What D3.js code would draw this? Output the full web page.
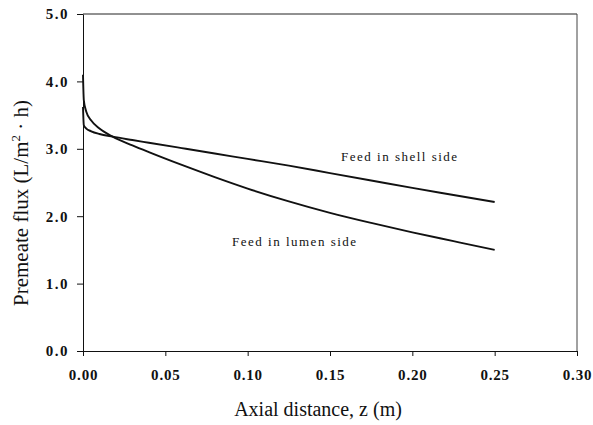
<!DOCTYPE html>
<html>
<head>
<meta charset="utf-8">
<script src="https://cdn.jsdelivr.net/npm/d3@7/dist/d3.min.js"></script>
<style>
  html, body { margin: 0; padding: 0; background: #fff; }
  svg { display: block; }
  .tick text { font-family: "Liberation Serif", "Times New Roman", serif; font-weight: bold; font-size: 15px; fill: #111; }
  .y-axis .tick text { letter-spacing: 1.5px; }
  .x-axis .tick text { letter-spacing: 0.8px; }
  .tick line, .domain { stroke: #111; }
</style>
</head>
<body>
<svg id="chart" width="593" height="425"></svg>
<script>
// Axial position along the module (m)
const axialZ = [0, 0.0005, 0.002, 0.005, 0.01, 0.018, 0.03, 0.04, 0.06, 0.08, 0.10, 0.125, 0.15, 0.175, 0.20, 0.225, 0.25];
// Permeate flux, L/(m²·h)
const fluxLumen = [4.10, 3.72, 3.55, 3.42, 3.30, 3.18, 3.05, 2.95, 2.76, 2.58, 2.41, 2.22, 2.05, 1.90, 1.76, 1.63, 1.50];
const fluxShell = [3.62, 3.35, 3.30, 3.26, 3.22, 3.18, 3.13, 3.09, 3.01, 2.93, 2.85, 2.75, 2.64, 2.53, 2.42, 2.315, 2.21];
const xTicks = [0, 0.05, 0.10, 0.15, 0.20, 0.25, 0.30];
const yTicks = [0, 1, 2, 3, 4, 5];
const seriesNames = ["Feed in shell side", "Feed in lumen side"];

const svg = d3.select("#chart");
const plotLeft = 83, plotRight = 577, plotTop = 14, plotBottom = 351;

const x = d3.scaleLinear().domain([0, 0.30]).range([plotLeft, plotRight]);
const y = d3.scaleLinear().domain([0, 5]).range([plotBottom, plotTop]);

// frame: top and right edges
svg.append("line").attr("x1", plotLeft).attr("x2", plotRight).attr("y1", plotTop).attr("y2", plotTop)
  .attr("stroke", "#222").attr("stroke-width", 1);
svg.append("line").attr("x1", plotRight).attr("x2", plotRight).attr("y1", plotTop).attr("y2", plotBottom)
  .attr("stroke", "#444").attr("stroke-width", 1);

// axes
svg.append("g")
  .attr("class", "x-axis")
  .attr("transform", `translate(0,${plotBottom})`)
  .call(d3.axisBottom(x).tickValues(xTicks).tickFormat(d3.format(".2f")).tickSize(5).tickPadding(13).tickSizeOuter(0));

svg.append("g")
  .attr("class", "y-axis")
  .attr("transform", `translate(${plotLeft},0)`)
  .call(d3.axisLeft(y).tickValues(yTicks).tickFormat(d3.format(".1f")).tickSize(6).tickPadding(8).tickSizeOuter(0));

// flux curves
const line = d3.line()
  .x((d, i) => x(axialZ[i]))
  .y(d => y(d))
  .curve(d3.curveMonotoneX);

[fluxShell, fluxLumen].forEach(vals => {
  svg.append("path")
    .attr("d", line(vals))
    .attr("fill", "none")
    .attr("stroke", "#111")
    .attr("stroke-width", 1.9)
    .attr("stroke-linejoin", "round");
});

// curve labels
const labelFont = '"Liberation Serif", "Times New Roman", serif';
svg.append("text").attr("x", 341).attr("y", 161)
  .attr("font-family", labelFont).attr("font-size", 13).attr("letter-spacing", "1.5px").attr("fill", "#111")
  .text(seriesNames[0]);
svg.append("text").attr("x", 232).attr("y", 246)
  .attr("font-family", labelFont).attr("font-size", 13).attr("letter-spacing", "1.5px").attr("fill", "#111")
  .text(seriesNames[1]);

// axis titles
svg.append("text")
  .attr("x", 318).attr("y", 416)
  .attr("text-anchor", "middle")
  .attr("font-family", labelFont).attr("font-size", 20).attr("fill", "#111")
  .text("Axial distance, z (m)");

const yTitle = svg.append("text")
  .attr("transform", "translate(28,203) rotate(-90)")
  .attr("text-anchor", "middle")
  .attr("font-family", labelFont).attr("font-size", 21).attr("fill", "#111");
yTitle.append("tspan").text("Premeate flux (L/m");
yTitle.append("tspan").attr("font-size", 13).attr("dy", "-8").text("2");
yTitle.append("tspan").attr("dy", "8").text(" \u00b7 h)");
</script>
</body>
</html>
